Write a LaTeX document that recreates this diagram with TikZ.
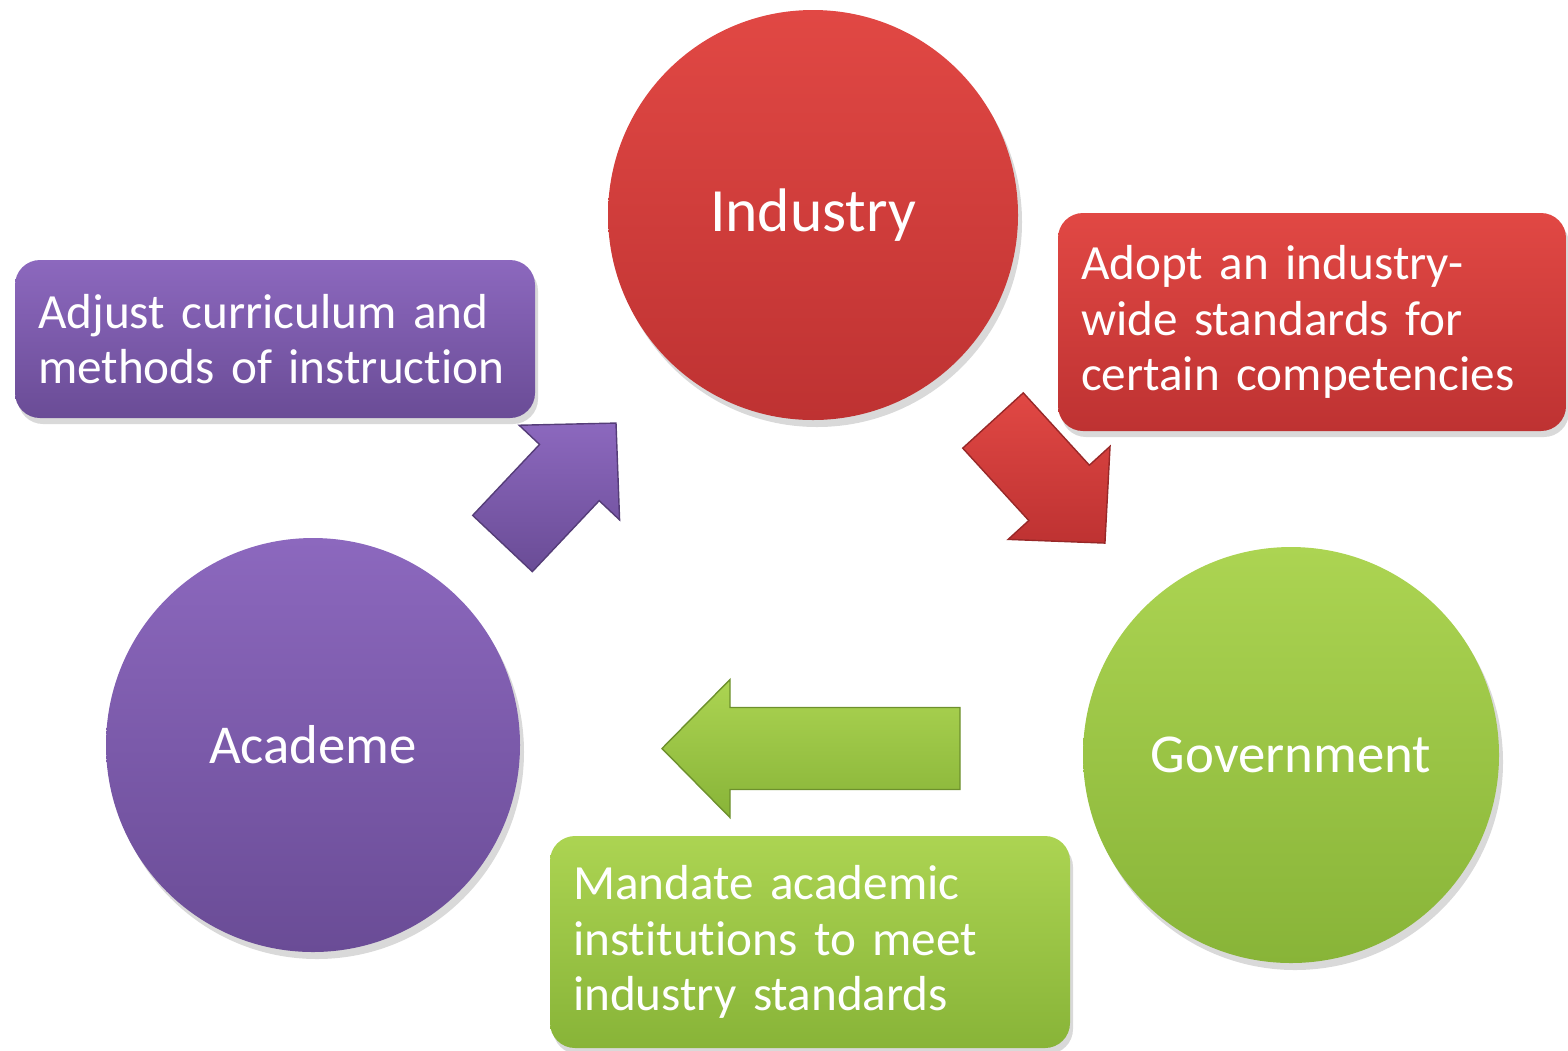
\documentclass[tikz,border=0pt]{standalone}
\usepackage{fontspec}
\setmainfont{Carlito}[Ligatures=NoCommon]
\usepackage{tikz}
\usetikzlibrary{shadows}
\definecolor{purptop}{RGB}{140,104,190}
\definecolor{purpbot}{RGB}{106,76,150}
\definecolor{redtop}{RGB}{225,72,68}
\definecolor{redbot}{RGB}{190,50,50}
\definecolor{grntop}{RGB}{172,212,82}
\definecolor{grnbot}{RGB}{136,180,56}
\tikzset{
  circnode/.style={circle, minimum size=#1, inner sep=0pt, text=white,
    drop shadow={opacity=0.3, shadow xshift=0.04cm, shadow yshift=-0.07cm}},
  txtbox/.style={rectangle, rounded corners=0.25cm, inner xsep=0.23cm, inner ysep=0pt,
    text=white, align=left, font=\fontsize{14}{15.8}\selectfont,
    drop shadow={opacity=0.3, shadow xshift=0.03cm, shadow yshift=-0.06cm}},
  blockfill/.style 2 args={top color=#1, bottom color=#2, draw=#2!80!black, line width=0.4pt}
}
% block arrow: style, tail midpoint, angle, length
\newcommand{\blockarr}[4]{\begin{scope}[shift={(#2)}, rotate=#3]
  \draw[#1] (0,-0.41) -- ({#4-0.68},-0.41) -- ({#4-0.68},-0.69) -- (#4,0)
    -- ({#4-0.68},0.69) -- ({#4-0.68},0.41) -- (0,0.41) -- cycle;
  \end{scope}}

\begin{document}
\begin{tikzpicture}
    \useasboundingbox (0,0) rectangle (15.68,-10.5);

    %circles
    \node[circnode=4.1cm, top color=redtop, bottom color=redbot,
      font=\fontsize{17.5}{21}\selectfont] (ind) at (8.13,-2.15) {Industry};
    \node[circnode=4.14cm, top color=purptop, bottom color=purpbot,
      font=\fontsize{15.6}{19}\selectfont] (aca) at (3.13,-7.45) {Academe};
    \node[circnode=4.16cm, top color=grntop, bottom color=grnbot,
      font=\fontsize{15.6}{19}\selectfont] (gov) at (12.91,-7.55) {Government};

    %boxes
    \node[txtbox, minimum width=5.2cm, minimum height=1.58cm, text width=4.74cm,
      top color=purptop, bottom color=purpbot] (adjust) at (2.75,-3.39)
      {Adjust curriculum and\\methods of instruction};
    \node[txtbox, minimum width=5.08cm, minimum height=2.18cm, text width=4.62cm,
      top color=redtop, bottom color=redbot] (adopt) at (13.12,-3.22)
      {Adopt an industry-\\wide standards for\\certain competencies};
    \node[txtbox, minimum width=5.2cm, minimum height=2.12cm, text width=4.74cm,
      top color=grntop, bottom color=grnbot] (mandate) at (8.10,-9.42)
      {Mandate academic\\institutions to meet\\industry standards};

    %arrows
    \blockarr{blockfill={purptop}{purpbot}}{5.025,-5.435}{46.7}{1.655}
    \blockarr{blockfill={redtop}{redbot}}{9.93,-4.205}{-47.6}{1.66}
    \blockarr{blockfill={grntop}{grnbot}}{9.60,-7.485}{180}{2.98}
\end{tikzpicture}
\end{document}
